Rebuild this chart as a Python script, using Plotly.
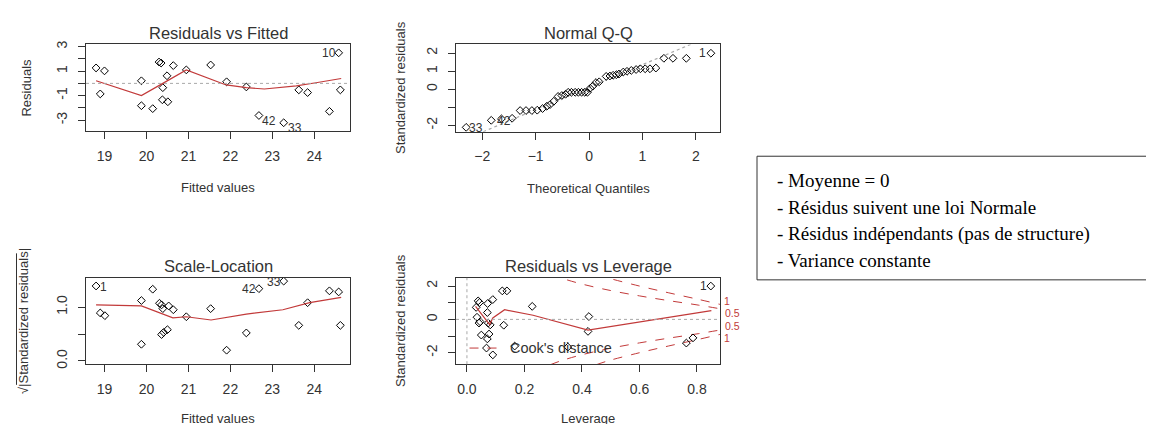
import plotly.graph_objects as go

W, H = 1154, 424
INK = "#333333"
RED = "#c23a3a"
GREY = "#a8a8a8"

# Residuals vs Fitted
rf_fitted = [18.80, 18.90, 19.00, 19.88, 19.88, 20.15, 20.30, 20.35, 20.39, 20.38, 20.49, 20.51,
             20.64, 20.95, 21.53, 21.91, 22.38, 22.68, 23.27, 23.63, 23.84, 24.36, 24.58, 24.62]
rf_resid = [1.26, -0.86, 1.02, 0.21, -1.82, -2.06, 1.74, 1.66, -0.35, -1.34, 0.62, -1.50,
            1.45, 1.10, 1.50, 0.13, -0.29, -2.62, -3.21, -0.53, -0.75, -2.28, 2.49, -0.53]
rf_smooth_x = [18.80, 19.88, 20.39, 20.95, 21.90, 22.38, 22.81, 23.57, 24.04, 24.64]
rf_smooth_y = [0.21, -0.99, 0.0, 1.10, -0.13, -0.35, -0.46, -0.21, 0.05, 0.40]

# Normal Q-Q
qq_theo = [-2.30, -1.83, -1.64, -1.44, -1.29, -1.18, -1.07, -0.97, -0.87, -0.79, -0.73, -0.66,
           -0.58, -0.51, -0.44, -0.39, -0.33, -0.26, -0.20, -0.14, -0.08, -0.03, 0.02, 0.07,
           0.13, 0.19, 0.32, 0.39, 0.45, 0.51, 0.56, 0.64, 0.71, 0.79, 0.88, 0.96, 1.05, 1.14,
           1.25, 1.40, 1.57, 1.82, 2.28]
qq_std = [-2.11, -1.72, -1.64, -1.61, -1.18, -1.18, -1.18, -1.16, -1.07, -0.94, -0.85, -0.67,
          -0.40, -0.35, -0.28, -0.17, -0.17, -0.17, -0.17, -0.17, -0.17, -0.17, 0.05, 0.17,
          0.37, 0.41, 0.71, 0.73, 0.77, 0.80, 0.84, 0.95, 0.99, 1.04, 1.09, 1.13, 1.13, 1.13,
          1.17, 1.71, 1.71, 1.71, 1.99]
qq_line_x = [-1.98, 1.90]
qq_line_y = [-2.35, 2.48]

# Scale-Location
sl_fitted = [18.80, 18.90, 19.01, 19.88, 19.88, 20.15, 20.31, 20.36, 20.39, 20.36, 20.41, 20.50,
             20.53, 20.64, 20.95, 21.53, 21.91, 22.38, 22.68, 23.27, 23.63, 23.84, 24.36, 24.58, 24.62]
sl_sqrt = [1.39, 0.89, 0.84, 1.12, 0.31, 1.33, 1.07, 1.04, 0.97, 0.49, 0.53, 0.58,
           1.02, 0.95, 0.82, 0.97, 0.20, 0.52, 1.34, 1.48, 0.66, 1.08, 1.30, 1.28, 0.66]
sl_smooth_x = [18.80, 19.88, 20.63, 20.95, 21.54, 22.38, 23.25, 23.89, 24.64]
sl_smooth_y = [1.04, 1.02, 0.80, 0.82, 0.76, 0.87, 0.95, 1.08, 1.18]

# Residuals vs Leverage
lev = [0.032, 0.039, 0.044, 0.035, 0.042, 0.046, 0.050, 0.072, 0.071, 0.074, 0.081, 0.090, 0.071,
       0.077, 0.068, 0.090, 0.123, 0.139, 0.128, 0.227, 0.166, 0.351, 0.424, 0.421, 0.763, 0.786, 0.848]
lev_std = [0.72, 1.11, 1.01, 0.13, -0.22, -0.14, -0.94, 0.95, 0.41, -0.22, -0.33, 1.19, -1.17,
           -0.88, -1.72, -2.13, 1.71, 1.71, -0.35, 0.78, -1.60, -1.66, 0.17, -0.72, -1.42, -1.11, 2.00]
lev_smooth_x = [0.030, 0.079, 0.090, 0.131, 0.230, 0.421, 0.850]
lev_smooth_y = [0.78, -0.31, 0.09, 0.58, 0.25, -0.64, 0.53]

# Cook's distance contours (0.5 and 1)
cook05_h = [0.29, 0.326, 0.4, 0.5, 0.6, 0.7, 0.8, 0.88]
cook05_y = [2.72, 2.49, 2.12, 1.73, 1.41, 1.13, 0.87, 0.64]
cook1_h = [0.45, 0.49, 0.6, 0.7, 0.8, 0.88]
cook1_y = [2.72, 2.49, 2.00, 1.60, 1.22, 0.90]

notes = ["- Moyenne = 0",
         "- Résidus suivent une loi Normale",
         "- Résidus indépendants (pas de structure)",
         "- Variance constante"]


def pxx(x):
    return x / W


def pxy(y):
    return 1 - y / H


pt = dict(symbol="diamond-open", size=6, color="black", line=dict(width=1))
fig = go.Figure()
fig.add_trace(go.Scatter(x=rf_fitted, y=rf_resid, mode="markers", marker=pt, xaxis="x", yaxis="y"))
fig.add_trace(go.Scatter(x=rf_smooth_x, y=rf_smooth_y, mode="lines", line=dict(color=RED, width=1.2),
                         xaxis="x", yaxis="y"))
fig.add_trace(go.Scatter(x=qq_line_x, y=qq_line_y, mode="lines", line=dict(color=GREY, width=1.2, dash="dot"),
                         xaxis="x2", yaxis="y2"))
fig.add_trace(go.Scatter(x=qq_theo, y=qq_std, mode="markers", marker=pt, xaxis="x2", yaxis="y2"))
fig.add_trace(go.Scatter(x=sl_fitted, y=sl_sqrt, mode="markers", marker=pt, xaxis="x3", yaxis="y3"))
fig.add_trace(go.Scatter(x=sl_smooth_x, y=sl_smooth_y, mode="lines", line=dict(color=RED, width=1.2),
                         xaxis="x3", yaxis="y3"))
for hs, ys in ((cook05_h, cook05_y), (cook1_h, cook1_y)):
    for sign in (1, -1):
        fig.add_trace(go.Scatter(x=hs, y=[sign * v for v in ys], mode="lines", line_shape="spline",
                                 line=dict(color=RED, width=1, dash="dash"), xaxis="x4", yaxis="y4"))
fig.add_trace(go.Scatter(x=lev, y=lev_std, mode="markers", marker=pt, xaxis="x4", yaxis="y4"))
fig.add_trace(go.Scatter(x=lev_smooth_x, y=lev_smooth_y, mode="lines", line=dict(color=RED, width=1.2),
                         xaxis="x4", yaxis="y4"))

boxes = {  # plot areas in pixels: left, right, top, bottom
    1: (78, 342, 33, 121),
    2: (448, 712, 33, 122),
    3: (78, 342, 271, 359),
    4: (448, 712, 271, 359),
}
xranges = {1: [18.56, 24.85], 2: [-2.49, 2.45], 3: [18.56, 24.85], 4: [-0.038, 0.880]}
yranges = {1: [-3.86, 3.18], 2: [-2.35, 2.48], 3: [-0.06, 1.54], 4: [-2.69, 2.49]}
xticks = {1: ([19, 20, 21, 22, 23, 24], None),
          2: ([-2, -1, 0, 1, 2], None),
          3: ([19, 20, 21, 22, 23, 24], None),
          4: ([0, 0.2, 0.4, 0.6, 0.8], ["0.0", "0.2", "0.4", "0.6", "0.8"])}
yticks = {1: ([-3, -2, -1, 0, 1, 2, 3], ["-3", "", "-1", "", "1", "", "3"]),
          2: ([-2, -1, 0, 1, 2], ["-2", "", "0", "1", "2"]),
          3: ([0, 0.5, 1.0], ["0.0", "", "1.0"]),
          4: ([-2, -1, 0, 1, 2], ["-2", "", "0", "", "2"])}

font = "Liberation Sans, Arial, sans-serif"
axis_common = dict(showline=True, mirror=True, linecolor=INK, linewidth=1, ticks="outside", ticklen=7,
                   tickcolor=INK, tickwidth=1, showgrid=False, zeroline=False,
                   tickfont=dict(size=14, color=INK, family=font))
layout = {}
for i, (l, r, t, b) in boxes.items():
    sx = "" if i == 1 else str(i)
    tv, tt = xticks[i]
    xa = dict(axis_common, domain=[pxx(l), pxx(r)], anchor="y" + sx, range=xranges[i],
              tickvals=tv, ticklabelstandoff=5)
    if tt:
        xa["ticktext"] = tt
    tv, tt = yticks[i]
    ya = dict(axis_common, domain=[pxy(b), pxy(t)], anchor="x" + sx, range=yranges[i],
              tickvals=tv, ticktext=tt, tickangle=-90, ticklabelstandoff=5)
    layout["xaxis" + sx] = xa
    layout["yaxis" + sx] = ya

fig.update_layout(**layout)

titles = [(1, "Residuals vs Fitted", "Fitted values", "Residuals", 19),
          (2, "Normal Q-Q", "Theoretical Quantiles", "Standardized residuals", 392),
          (3, "Scale-Location", "Fitted values", "√|Standardized residuals|", 15),
          (4, "Residuals vs Leverage", "Leverage", "Standardized residuals", 392)]
ann = []
for i, main, xlab, ylab, ylx in titles:
    l, r, t, b = boxes[i]
    cx = (l + r) / 2
    cy = (t + b) / 2
    ann.append(dict(x=pxx(cx), y=pxy(t - 12), text=main, font=dict(size=16.5, color=INK, family=font)))
    ann.append(dict(x=pxx(cx), y=pxy(min(b + 58, 414)), text=xlab, font=dict(size=13, color=INK, family=font)))
    ann.append(dict(x=pxx(ylx), y=pxy(cy), text=ylab, textangle=-90,
                    font=dict(size=13, color=INK, family=font)))
for a in ann:
    a.update(xref="paper", yref="paper", showarrow=False, xanchor="center", yanchor="middle")

# point labels
lab = dict(showarrow=False, font=dict(size=12, color=INK, family=font))
point_labels = [("x", "y", 24.36, 2.49, "10"), ("x", "y", 22.93, -3.03, "42"), ("x", "y", 23.53, -3.61, "33"),
                ("x2", "y2", -2.11, -2.15, "33"), ("x2", "y2", -1.60, -1.75, "42"), ("x2", "y2", 2.13, 1.99, "1"),
                ("x3", "y3", 18.98, 1.37, "1"), ("x3", "y3", 22.44, 1.33, "42"), ("x3", "y3", 23.03, 1.46, "33"),
                ("x4", "y4", 0.823, 2.0, "1")]
for xr, yr, x, y, s in point_labels:
    ann.append(dict(lab, xref=xr, yref=yr, x=x, y=y, text=s))

# Cook's contour labels right of the box
for y, s, dx in ((1.12, "1", 1.008), (0.38, "0.5", 1.012), (-0.38, "0.5", 1.012), (-1.12, "1", 1.008)):
    ann.append(dict(xref="x4 domain", yref="y4", x=dx, y=y, text=s, showarrow=False, xanchor="left",
                    font=dict(size=10.5, color=RED, family=font)))
ann.append(dict(xref="x4", yref="y4", x=0.143, y=-1.72, text="Cook's distance", showarrow=False,
                xanchor="left", font=dict(size=14.5, color=INK, family=font)))

# notes box
for k, s in enumerate(notes):
    ann.append(dict(xref="paper", yref="paper", x=pxx(767), y=pxy(172 + 27 * k), text=s, showarrow=False,
                    xanchor="left", yanchor="middle",
                    font=dict(size=19, color="black", family="Liberation Serif, Times New Roman, serif")))

shapes = [
    dict(type="line", xref="x domain", yref="y", x0=0, x1=1, y0=0, y1=0,
         line=dict(color=GREY, width=1, dash="dot")),
    dict(type="line", xref="x4 domain", yref="y4", x0=0, x1=1, y0=0, y1=0,
         line=dict(color=GREY, width=1, dash="dot")),
    dict(type="line", xref="x4", yref="y4 domain", x0=0, x1=0, y0=0, y1=1,
         line=dict(color=GREY, width=1, dash="dot")),
    dict(type="line", xref="x4", yref="y4", x0=0.009, x1=0.119, y0=-1.72, y1=-1.72,
         line=dict(color=RED, width=1, dash="dash")),
    dict(type="line", xref="paper", yref="paper", x0=pxx(8.5), x1=pxx(8.5), y0=pxy(380), y1=pxy(246),
         line=dict(color=INK, width=1)),
    dict(type="rect", xref="paper", yref="paper", x0=pxx(749), x1=pxx(1153), y0=pxy(273), y1=pxy(147),
         line=dict(color=INK, width=1)),
]

fig.update_layout(width=W, height=H, margin=dict(l=0, r=0, t=0, b=0), showlegend=False,
                  paper_bgcolor="white", plot_bgcolor="white", annotations=ann, shapes=shapes)
fig.write_html("out.html")
